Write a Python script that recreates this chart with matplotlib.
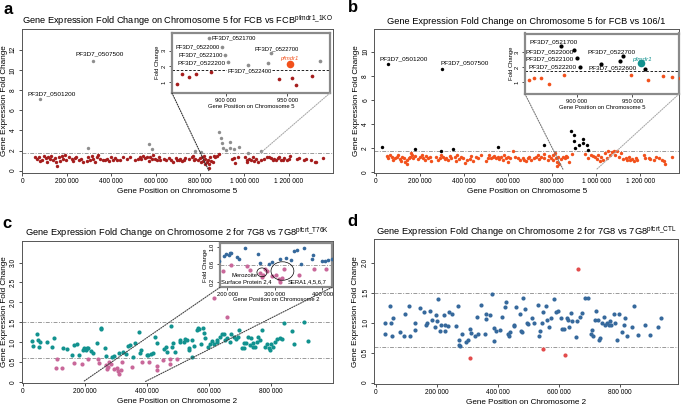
import matplotlib
matplotlib.use('Agg')
import matplotlib.pyplot as plt
from matplotlib.patches import ConnectionPatch, Ellipse
from matplotlib.ticker import FuncFormatter

plt.rcParams['font.family'] = 'Liberation Sans'
plt.rcParams['mathtext.fontset'] = 'custom'
plt.rcParams['mathtext.rm'] = 'Liberation Sans'
plt.rcParams['mathtext.it'] = 'Liberation Sans:italic'

# ---------------- data (positions in kb, fold change) ----------------
# panel a : FCB vs FCB pfmdr1
a_red_kb = [56, 66, 75, 81, 91, 97, 106, 112, 116, 124,
            131, 139, 146, 154, 158, 166, 172, 177, 184, 192,
            199, 211, 222, 229, 237, 244, 257, 263, 272, 290,
            297, 305, 312, 317, 327, 335, 343, 350, 362, 373,
            383, 392, 398, 407, 418, 426, 441, 453, 471, 483,
            509, 519, 528, 534, 543, 554, 561, 569, 576, 584,
            589, 596, 607, 614, 622, 637, 649, 659, 670, 679,
            690, 697, 705, 712, 720, 727, 735, 750, 765, 770,
            773, 780, 791, 800, 806, 810, 815, 818, 821, 825,
            830, 836, 840, 845, 848, 841, 860, 864, 870, 876,
            888, 943, 954, 957, 970, 1002, 1011, 1014, 1022, 1029,
            1037, 1044, 1052, 1062, 1074, 1090, 1102, 1112, 1120, 1127,
            1135, 1142, 1150, 1157, 1165, 1172, 1180, 1192, 1203, 1207,
            1237, 1248, 1268, 1278, 1301, 1316, 1323, 1354]
a_red_fc = [1.33, 1.17, 1.40, 1.00, 1.10, 1.50, 1.23, 0.90, 1.37, 1.17,
            1.50, 1.07, 1.27, 0.83, 0.50, 1.33, 1.00, 1.50, 1.17, 1.57,
            1.10, 1.33, 1.17, 1.00, 1.23, 1.40, 1.07, 1.17, 0.83, 1.00,
            1.33, 1.10, 1.50, 1.17, 0.83, 1.33, 1.57, 1.17, 1.07, 1.07,
            1.17, 1.00, 1.33, 1.10, 1.23, 1.10, 1.10, 1.33, 1.17, 1.33,
            1.07, 1.17, 1.33, 1.17, 1.50, 1.23, 1.33, 1.00, 1.33, 1.17,
            1.57, 1.17, 1.07, 1.33, 1.10, 1.17, 1.07, 1.23, 1.07, 0.90,
            1.23, 1.10, 1.07, 1.17, 1.00, 1.07, 1.23, 1.17, 1.33, 1.50,
            1.10, 1.17, 1.07, 1.23, 0.90, 1.33, 1.00, 1.50, 0.67, 1.17,
            0.83, 1.07, 0.67, 1.33, 1.00, 0.23, 0.86, 1.50, 1.31, 1.50,
            1.63, 1.18, 1.25, 0.80, 1.37, 1.33, 1.10, 0.90, 1.17, 1.07,
            1.33, 1.00, 1.17, 0.83, 1.07, 1.17, 1.33, 1.33, 1.23, 1.07,
            1.17, 1.07, 1.23, 1.33, 1.07, 1.10, 1.23, 1.07, 1.17, 1.50,
            1.17, 1.23, 1.07, 1.17, 1.07, 0.90, 0.83, 1.23]
a_up_kb = [78, 318, 297, 569, 584, 776, 803, 886, 897, 899, 902, 918, 934, 937, 977, 1015, 1075]
a_up_fc = [7.1, 10.9, 2.23, 2.67, 2.17, 2.0, 1.83, 3.83, 3.21, 2.72, 2.25, 2.08, 2.21, 2.85, 2.33, 1.77, 2.0]
a_mdr_kb, a_mdr_fc = 952, 2.14

# panel b : FCB vs 106/1
b_org_kb = [50, 57, 65, 72, 80, 87, 95, 102, 110, 114,
            120, 128, 132, 140, 144, 150, 155, 159, 165, 170,
            180, 193, 200, 208, 215, 223, 230, 238, 245, 253,
            275, 283, 290, 298, 305, 313, 320, 328, 335, 343,
            358, 365, 370, 376, 385, 396, 406, 415, 426, 433,
            441, 456, 466, 478, 501, 511, 516, 523, 531, 538,
            546, 553, 561, 566, 576, 581, 591, 599, 602, 611,
            621, 632, 644, 656, 666, 674, 681, 689, 696, 704,
            716, 726, 734, 741, 749, 761, 764, 779, 787, 794,
            802, 806, 812, 817, 821, 827, 832, 839, 847, 824,
            857, 862, 868, 875, 889, 949, 964, 978, 986, 993,
            1002, 1008, 1017, 1023, 1032, 1038, 1047, 1053, 1062, 1072,
            1080, 1087, 1095, 1102, 1110, 1122, 1133, 1140, 1148, 1155,
            1163, 1170, 1178, 1185, 1215, 1223, 1238, 1245, 1260, 1272,
            1283, 1298, 1305, 1313, 1343]
b_org_fc = [1.37, 1.14, 1.43, 1.29, 1.00, 1.14, 1.29, 1.43, 1.06, 0.91,
            1.29, 1.14, 0.86, 1.00, 0.71, 1.14, 1.29, 1.57, 1.43, 1.14,
            1.34, 1.06, 1.29, 1.43, 1.20, 1.00, 1.34, 1.14, 1.29, 0.91,
            1.29, 1.00, 1.14, 1.43, 1.29, 1.06, 1.20, 1.00, 1.34, 1.14,
            1.29, 0.91, 1.43, 1.06, 1.29, 1.14, 0.77, 1.00, 1.06, 1.34,
            0.91, 1.29, 1.14, 1.43, 0.94, 1.20, 1.43, 1.14, 1.29, 1.34,
            1.14, 1.29, 1.06, 1.29, 1.00, 1.43, 1.14, 1.29, 0.86, 1.14,
            1.71, 1.29, 1.14, 1.00, 1.20, 1.00, 0.91, 1.14, 1.29, 1.00,
            1.14, 1.29, 1.43, 1.06, 1.29, 1.51, 1.20, 1.00, 1.34, 1.14,
            1.43, 1.00, 1.57, 1.14, 0.86, 1.29, 0.71, 1.09, 1.29, 0.49,
            1.15, 1.31, 1.27, 0.87, 1.49, 1.49, 1.15, 1.44, 1.33, 1.29,
            1.06, 1.43, 0.91, 1.29, 1.00, 1.57, 1.14, 1.71, 1.43, 1.63,
            1.72, 1.43, 1.71, 1.29, 1.57, 1.06, 1.14, 1.00, 1.29, 1.00,
            1.06, 0.91, 1.14, 1.00, 1.43, 1.20, 1.14, 1.06, 1.00, 1.29,
            1.14, 1.00, 0.91, 0.66, 1.29]
b_up_kb = [27, 57, 177, 295, 302, 350, 553, 761, 886, 898, 900, 903, 922, 939, 942, 961]
b_up_fc = [2.09, 8.96, 1.91, 1.78, 8.55, 1.91, 2.09, 2.29, 3.37, 3.11, 2.57, 2.0, 2.22, 2.40, 2.71, 1.87]
b_mdr_kb, b_mdr_fc = 958, 2.27

# panel c : 7G8 vs 7G8 pfcrt_T76K
c_mid_kb = [31, 34, 47, 50, 53, 56, 79, 93, 102, 129,
            142, 158, 166, 176, 183, 193, 197, 203, 206, 209,
            220, 225, 238, 251, 252, 265, 268, 287, 294, 311,
            324, 333, 340, 346, 354, 362, 373, 378, 381, 400,
            405, 412, 421, 426, 434, 455, 461, 464, 477, 482,
            485, 491, 505, 507, 518, 523, 528, 534, 537, 545,
            550, 561, 564, 569, 574, 580, 584, 587, 598, 604,
            611, 616, 625, 627, 636, 641, 647, 652, 657, 668,
            670, 679, 687, 692, 697, 706, 711, 713, 720, 727,
            732, 735, 741, 743, 749, 754, 759, 765, 770, 781,
            786, 792, 797, 799, 806, 813, 818, 829, 834, 840,
            867, 872, 906, 917, 545]
c_mid_fc = [1.03, 0.90, 1.20, 1.05, 0.88, 1.01, 1.01, 0.88, 1.09, 0.84,
            0.82, 0.67, 0.92, 0.94, 0.67, 0.79, 0.84, 0.81, 0.86, 0.85,
            0.77, 0.73, 0.98, 1.35, 1.32, 0.84, 0.64, 0.62, 0.65, 0.73,
            0.75, 0.71, 0.90, 0.92, 0.62, 0.98, 1.24, 0.73, 0.81, 0.67,
            0.68, 0.71, 0.73, 1.13, 0.98, 0.82, 0.88, 0.75, 1.41, 0.88,
            0.98, 0.75, 1.01, 1.05, 1.01, 1.07, 1.05, 0.81, 0.86, 1.05,
            0.90, 1.29, 1.35, 1.32, 0.96, 1.35, 1.22, 1.09, 0.88, 0.94,
            1.03, 0.96, 1.05, 1.01, 1.13, 1.20, 1.20, 1.05, 1.09, 1.01,
            1.20, 1.12, 1.07, 1.13, 1.29, 0.84, 0.84, 0.98, 0.98, 1.13,
            0.92, 1.09, 0.88, 0.98, 0.88, 1.01, 1.13, 1.05, 1.29, 0.88,
            0.94, 0.86, 0.81, 0.96, 0.88, 1.01, 1.07, 1.09, 1.07, 1.47,
            1.28, 0.96, 1.50, 1.03, 0.62]
c_out_kb = [107, 112, 126, 166, 192, 209, 242, 247, 268, 273,
            276, 279, 284, 294, 303, 308, 311, 316, 319, 351,
            383, 408, 432, 434, 451, 473, 475, 498, 616, 659]
c_out_fc = [0.35, 0.58, 0.35, 0.47, 0.44, 0.58, 0.56, 0.47, 0.41, 0.31,
            0.37, 0.50, 0.44, 0.33, 0.35, 0.28, 0.20, 0.30, 0.50, 0.37,
            0.50, 0.50, 0.39, 0.30, 0.54, 0.45, 0.58, 0.58, 2.11, 1.64]

# panel d : 7G8 vs 7G8 pfcrt_CTL
d_mid_kb = [29, 32, 46, 51, 54, 57, 81, 92, 97, 108,
            111, 128, 130, 144, 157, 165, 168, 178, 184, 195,
            197, 200, 205, 209, 213, 222, 227, 227, 235, 241,
            249, 263, 270, 273, 273, 276, 284, 295, 301, 308,
            313, 324, 330, 335, 346, 357, 360, 362, 373, 382,
            386, 386, 392, 408, 414, 422, 427, 432, 436, 438,
            451, 454, 459, 472, 476, 478, 483, 490, 494, 497,
            513, 519, 530, 535, 537, 543, 548, 557, 560, 568,
            573, 584, 589, 595, 605, 611, 616, 625, 629, 632,
            638, 643, 654, 659, 667, 676, 684, 695, 703, 708,
            710, 717, 721, 728, 732, 735, 740, 746, 751, 757,
            762, 768, 771, 780, 784, 789, 797, 805, 811, 816,
            822, 838, 857, 845, 880, 896, 925, 933]
d_mid_fc = [0.99, 0.81, 1.28, 0.99, 0.78, 1.07, 0.84, 0.78, 1.14, 1.28,
            0.78, 0.88, 1.00, 1.25, 1.17, 0.96, 0.99, 1.20, 1.04, 0.92,
            1.13, 1.02, 1.39, 0.86, 0.96, 1.12, 0.96, 0.86, 0.95, 1.17,
            1.14, 0.94, 1.28, 0.71, 0.63, 0.61, 0.81, 0.68, 0.71, 0.89,
            0.83, 0.78, 1.10, 0.81, 1.29, 0.81, 1.06, 1.14, 1.12, 1.47,
            0.69, 0.91, 0.86, 0.87, 1.10, 1.26, 1.35, 0.81, 0.78, 0.84,
            0.96, 0.94, 1.26, 1.14, 0.86, 0.84, 1.41, 1.23, 0.99, 0.98,
            1.07, 0.99, 1.29, 0.78, 0.86, 0.99, 1.17, 1.27, 1.04, 0.92,
            1.07, 1.39, 1.18, 1.20, 1.07, 0.89, 0.89, 1.07, 1.04, 0.92,
            1.16, 1.02, 0.76, 1.02, 1.10, 1.16, 1.41, 1.41, 0.81, 0.87,
            0.78, 1.04, 1.20, 1.04, 0.71, 0.74, 0.99, 1.09, 0.96, 0.99,
            0.96, 1.03, 0.96, 1.14, 0.99, 0.71, 1.14, 0.84, 0.96, 1.07,
            0.78, 0.93, 0.79, 1.28, 0.96, 0.79, 0.93, 1.07]
d_out_kb = [308, 546, 619, 663]
d_out_fc = [0.41, 0.56, 0.46, 1.89]

# ---------------- helpers ----------------
W, H = 685, 405
fig = plt.figure(figsize=(6.85, 4.05), dpi=100)


def box(l, t, r, b):
    return [l / W, 1 - b / H, (r - l) / W, (b - t) / H]


def spaced(v, pos):
    return f'{int(round(v)):,}'.replace(',', ' ')


def dec(v, pos):
    return '0' if abs(v) < 1e-9 else f'{v:.1f}'


def bp(kb):
    return [k * 1000 for k in kb]


def style(ax, size=4.8, frame='#555', lw=0.7):
    ax.xaxis.set_major_formatter(FuncFormatter(spaced))
    ax.tick_params(labelsize=size, length=2.5, width=0.6, pad=1.2, color='#333')
    ax.tick_params(axis='y', labelrotation=90)
    for t in ax.get_yticklabels():
        t.set_va('center')
    for s in ax.spines.values():
        s.set_linewidth(lw)
        s.set_color(frame)


def labels(ax, xl, yl, xy, yx, size=5.9):
    ax.set_xlabel(xl, fontsize=size)
    ax.set_ylabel(yl, fontsize=size)
    ax.xaxis.label.set_va('center')
    ax.yaxis.label.set_va('center')
    ax.xaxis.set_label_coords(0.5, xy)
    ax.yaxis.set_label_coords(yx, 0.5)


def letter(x, y, s):
    fig.text(x / W, 1 - y / H, s, fontsize=12, fontweight='bold', va='center', ha='left')


def dashdot(ax, y, lw=0.7, color='#999'):
    ax.axhline(y, color=color, lw=lw, dashes=(4, 1.5, 1, 1.5), zorder=1)


def connect(ax, axin, corner, xy, color):
    con = ConnectionPatch(xyA=corner, coordsA=axin.transAxes, xyB=xy, coordsB=ax.transData,
                          ls=(0, (1, 1.2)), color=color, lw=0.8)
    fig.add_artist(con)


title_kw = dict(fontsize=6.7, pad=3.5)
S = 6
S2 = 9

RED = '#a51d1d'
GRAY = '#8e8e8e'
ORANGE = '#f2511c'
TEAL = '#12928f'
PINK = '#c9689a'
BLUE = '#36699c'
DRED = '#e24c4c'

# ---------------- panel a ----------------
ax = fig.add_axes(box(22, 29, 333, 173))
ax.scatter(bp(a_red_kb), a_red_fc, s=S, color=RED, lw=0, zorder=3)
ax.scatter(bp(a_up_kb), a_up_fc, s=S, color=GRAY, lw=0, zorder=3)
ax.scatter([a_mdr_kb * 1000], [a_mdr_fc], s=S, color=GRAY, lw=0, zorder=3)
dashdot(ax, 1.75)
ax.set_xlim(-1000, 1399000)
ax.set_ylim(-0.23, 14.06)
ax.set_xticks(range(0, 1200001, 200000))
ax.set_yticks(range(0, 13, 2))
style(ax)
ax.text(22000, 7.6, 'PF3D7_0501200', fontsize=4.6, va='center', ha='left')
ax.text(239000, 11.6, 'PF3D7_0507500', fontsize=4.6, va='center', ha='left')
ax.set_title('Gene Expression Fold Change on Chromosome 5 for FCB vs FCB$^{\\mathrm{pfmdr1\\_1KO}}$', **title_kw)
labels(ax, 'Gene Position on Chromosome 5', 'Gene Expression Fold Change', -0.13, -0.055)
letter(4, 9, 'a')

ai = fig.add_axes(box(172, 32.5, 330, 93))
ai.scatter(bp(a_red_kb), a_red_fc, s=S + 1, color=RED, lw=0, zorder=3)
ai.scatter(bp(a_up_kb), a_up_fc, s=S + 1, color=GRAY, lw=0, zorder=3)
ai.scatter([a_mdr_kb * 1000], [a_mdr_fc], s=30, color=ORANGE, lw=0, zorder=3)
ai.axhline(1.75, color='k', lw=0.6, ls=(0, (3, 2)), zorder=1)
ai.set_xlim(856000, 985000)
ai.set_ylim(0.3, 4.15)
ai.set_xticks([900000, 950000])
ai.set_yticks([1, 2, 3])
style(ai, size=4.2, frame='#8a8a8a', lw=1.6)
labels(ai, 'Gene Position on Chromosome 5', 'Fold Change', -0.215, -0.09, size=4.2)
lab = dict(fontsize=4.2, va='center')
ai.text(888400, 3.78, 'PF3D7_0521700', ha='left', **lab)
ai.text(895200, 3.21, 'PF3D7_0522000', ha='right', **lab)
ai.text(897400, 2.72, 'PF3D7_0522100', ha='right', **lab)
ai.text(900100, 2.19, 'PF3D7_0522200', ha='right', fontsize=4.6, va='center')
ai.text(901200, 1.72, 'PF3D7_0522400', ha='left', zorder=2,
        bbox=dict(facecolor='white', edgecolor='none', pad=0.3), **lab)
ai.text(923200, 3.08, 'PF3D7_0522700', ha='left', **lab)
ai.text(944200, 2.51, 'pfmdr1', ha='left', color=ORANGE, style='italic', **lab)
connect(ax, ai, (0, 0), (840000, 0), '#333')
connect(ax, ai, (1, 0), (1072000, 1.75), '#aaa')

# ---------------- panel b ----------------
bx = fig.add_axes(box(374.3, 29.3, 679, 172.7))
bx.scatter(bp(b_org_kb), b_org_fc, s=S, color=ORANGE, lw=0, zorder=3)
bx.scatter(bp(b_up_kb), b_up_fc, s=S, color='k', lw=0, zorder=3)
bx.scatter([b_mdr_kb * 1000], [b_mdr_fc], s=S, color='k', lw=0, zorder=3)
dashdot(bx, 1.75)
bx.set_xlim(-6000, 1375000)
bx.set_ylim(-0.05, 11.85)
bx.set_xticks(range(0, 1200001, 200000))
bx.set_yticks(range(0, 11, 2))
style(bx)
bx.text(19500, 9.37, 'PF3D7_0501200', fontsize=4.6, va='center', ha='left')
bx.text(292000, 9.04, 'PF3D7_0507500', fontsize=4.6, va='center', ha='left')
bx.set_title('Gene Expression Fold Change on Chromosome 5 for FCB vs 106/1', **title_kw)
labels(bx, 'Gene Position on Chromosome 5', 'Gene Expression Fold Change', -0.13, -0.058)
letter(348, 8, 'b')

bi = fig.add_axes(box(525, 33.5, 679, 94))
bi.scatter(bp(b_org_kb), b_org_fc, s=S + 1, color=ORANGE, lw=0, zorder=3)
bi.scatter(bp(b_up_kb), b_up_fc, s=S + 3, color='k', lw=0, zorder=3)
bi.scatter([b_mdr_kb * 1000], [b_mdr_fc], s=30, color=TEAL, lw=0, zorder=3)
bi.axhline(1.75, color='k', lw=0.6, ls=(0, (3, 2)), zorder=1)
bi.set_xlim(853600, 992000)
bi.set_ylim(0.22, 4.22)
bi.set_xticks([900000, 950000])
bi.set_yticks([1, 2, 3])
style(bi, size=4.2, frame='#8a8a8a', lw=1.6)
labels(bi, 'Gene Position on Chromosome 5', 'Fold Change', -0.215, -0.09, size=4.2)
bi.text(857500, 3.64, 'PF3D7_0521700', ha='left', fontsize=4.6, va='center')
bi.text(897000, 3.0, 'PF3D7_0522000', ha='right', fontsize=4.6, va='center')
bi.text(897000, 2.53, 'PF3D7_0522100', ha='right', fontsize=4.6, va='center')
bi.text(899900, 1.99, 'PF3D7_0522200', ha='right', fontsize=4.6, va='center')
bi.text(909600, 3.0, 'PF3D7_0522700', ha='left', fontsize=4.6, va='center')
bi.text(910800, 1.96, 'PF3D7_0522600', ha='left', fontsize=4.6, va='center', zorder=2,
        bbox=dict(facecolor='white', edgecolor='none', pad=0.3))
bi.text(950300, 2.53, 'pfmdr1', ha='left', color=TEAL, style='italic', fontsize=4.6, va='center')
connect(bx, bi, (0, 0), (850000, 0.2), '#777')
connect(bx, bi, (1, 0), (1000000, 0.2), '#aaa')

# ---------------- panel c ----------------
cx = fig.add_axes(box(21.7, 240.7, 333, 383.3))
cx.scatter(bp(c_mid_kb), c_mid_fc, s=S2, color=TEAL, lw=0, zorder=3)
cx.scatter(bp(c_out_kb), c_out_fc, s=S2, color=PINK, lw=0, zorder=3)
dashdot(cx, 1.5)
dashdot(cx, 0.59)
cx.set_xlim(-3000, 999000)
cx.set_ylim(-0.04, 3.55)
cx.set_xticks(range(0, 800001, 200000))
cx.set_yticks([0, 0.5, 1.0, 1.5, 2.0, 2.5, 3.0])
cx.yaxis.set_major_formatter(FuncFormatter(dec))
style(cx)
cx.set_title('Gene Expression Fold Change on Chromosome 2 for 7G8 vs 7G8$^{\\mathrm{pfcrt\\_T76K}}$', **title_kw)
labels(cx, 'Gene Position on Chromosome 2', 'Gene Expression Fold Change', -0.128, -0.054)
letter(2, 224, 'c')

ci = fig.add_axes(box(220, 243.3, 332, 287.3))
ci.scatter(bp(c_mid_kb), c_mid_fc, s=S + 1, color=BLUE, lw=0, zorder=3)
ci.scatter(bp(c_out_kb), c_out_fc, s=S2, color=PINK, lw=0, zorder=3)
dashdot(ci, 0.59)
ci.set_xlim(185000, 420000)
ci.set_ylim(0.08, 1.08)
ci.set_xticks([200000, 300000, 400000])
ci.set_yticks([0.2, 0.6, 1.0])
ci.yaxis.set_major_formatter(FuncFormatter(dec))
style(ci, size=4.2, frame='#8a8a8a', lw=1.6)
labels(ci, 'Gene Position on Chromosome 2', 'Fold Change', -0.27, -0.125, size=4.2)
ci.add_patch(Ellipse((273000, 0.42), 21000, 0.2, fill=False, lw=0.5, color='k', zorder=4))
ci.add_patch(Ellipse((316000, 0.45), 48000, 0.42, fill=False, lw=0.5, color='k', zorder=4))
ci.text(236000, 0.34, 'Merozoite', ha='center', va='center', fontsize=4.2, zorder=5)
ci.text(186500, 0.2, 'Surface Protein 2,4', ha='left', va='center', fontsize=4.2, zorder=5)
ci.text(327000, 0.2, 'SERA1,4,5,6,7', ha='left', va='center', fontsize=4.2, zorder=5)
connect(cx, ci, (0, 0), (195000, 0), '#444')
connect(cx, ci, (1, 0), (394000, 0), '#444')

# ---------------- panel d ----------------
dx = fig.add_axes(box(374.3, 239.3, 678.3, 384.3))
dx.scatter(bp(d_mid_kb), d_mid_fc, s=S2, color=BLUE, lw=0, zorder=3)
dx.scatter(bp(d_out_kb), d_out_fc, s=S2, color=DRED, lw=0, zorder=3)
dashdot(dx, 1.5)
dashdot(dx, 0.59)
dx.set_xlim(-4500, 990000)
dx.set_ylim(-0.027, 2.39)
dx.set_xticks(range(0, 800001, 200000))
dx.set_yticks([0, 0.5, 1.0, 1.5, 2.0])
dx.yaxis.set_major_formatter(FuncFormatter(dec))
style(dx)
dx.set_title('Gene Expression Fold Change on Chromosome 2 for 7G8 vs 7G8$^{\\mathrm{pfcrt\\_CTL}}$', **title_kw)
labels(dx, 'Gene Position on Chromosome 2', 'Gene Expression Fold Change', -0.128, -0.063)
letter(347, 221, 'd')

fig.savefig('out.png', dpi=100)
